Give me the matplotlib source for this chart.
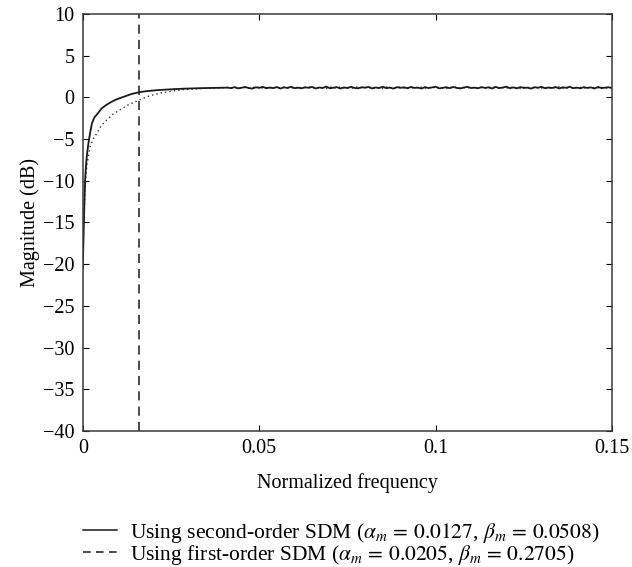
import matplotlib
matplotlib.use('Agg')
import matplotlib.pyplot as plt
from matplotlib.lines import Line2D

plt.rcParams['font.family'] = ['Liberation Serif', 'DejaVu Serif']
plt.rcParams['mathtext.fontset'] = 'stix'
plt.rcParams['axes.unicode_minus'] = True

# data
# rising part of the second-order SDM response (solid)
freq_second_rise = [0.0, 0.0002, 0.0004, 0.00065, 0.0009, 0.0012, 0.0016, 0.0021,
                    0.0026, 0.0033, 0.0043, 0.0054, 0.0067, 0.0081, 0.0095,
                    0.0115, 0.0138, 0.0160, 0.0181, 0.0210, 0.0248, 0.0286,
                    0.0334, 0.0382, 0.0405]
mag_second_rise = [-20.5, -17.0, -13.5, -10.0, -8.2, -6.8, -5.5, -4.2,
                   -3.1, -2.4, -1.9, -1.3, -0.9, -0.55, -0.25,
                   0.05, 0.4, 0.62, 0.74, 0.86, 0.96, 1.04,
                   1.1, 1.14, 1.16]

# rising part of the first-order SDM response (dotted)
freq_first_rise = [0.0003, 0.00065, 0.0011, 0.0016, 0.0021, 0.0029, 0.0040,
                   0.0052, 0.0068, 0.0086, 0.0105, 0.0129, 0.0160, 0.0191,
                   0.0218, 0.0248, 0.0286, 0.0334, 0.0382, 0.0405]
mag_first_rise = [-15.0, -10.7, -8.3, -7.0, -5.9, -5.0, -4.3,
                  -3.4, -2.7, -2.0, -1.5, -0.9, -0.3, 0.2,
                  0.5, 0.72, 0.92, 1.06, 1.13, 1.15]

# noisy flat region, 0.041 .. 0.150 (both curves overlap here)
freq_flat = [0.041 + 0.001 * i for i in range(110)]
mag_flat = [1.18, 1.10, 1.22, 1.08, 1.15, 1.24, 1.12, 1.05, 1.20, 1.14,
            1.26, 1.09, 1.17, 1.11, 1.23, 1.06, 1.19, 1.13, 1.27, 1.10,
            1.16, 1.08, 1.21, 1.14, 1.25, 1.07, 1.18, 1.12, 1.29, 1.09,
            1.15, 1.22, 1.06, 1.19, 1.11, 1.26, 1.13, 1.08, 1.21, 1.16,
            1.24, 1.07, 1.18, 1.12, 1.28, 1.10, 1.17, 1.05, 1.22, 1.14,
            1.20, 1.09, 1.25, 1.13, 1.16, 1.06, 1.23, 1.11, 1.19, 1.27,
            1.08, 1.15, 1.21, 1.10, 1.24, 1.13, 1.07, 1.18, 1.26, 1.12,
            1.16, 1.09, 1.22, 1.14, 1.20, 1.06, 1.25, 1.11, 1.17, 1.28,
            1.10, 1.19, 1.08, 1.23, 1.13, 1.16, 1.05, 1.21, 1.15, 1.26,
            1.09, 1.18, 1.12, 1.24, 1.07, 1.20, 1.14, 1.27, 1.10, 1.17,
            1.08, 1.22, 1.13, 1.19, 1.06, 1.25, 1.11, 1.16, 1.21, 1.12]
mag_flat_first = [1.14, 1.20, 1.09, 1.23, 1.12, 1.17, 1.06, 1.21, 1.15, 1.25,
                  1.10, 1.18, 1.13, 1.26, 1.08, 1.16, 1.22, 1.11, 1.19, 1.07,
                  1.24, 1.13, 1.17, 1.28, 1.09, 1.20, 1.12, 1.15, 1.06, 1.23,
                  1.18, 1.10, 1.25, 1.14, 1.21, 1.08, 1.16, 1.27, 1.11, 1.19,
                  1.13, 1.22, 1.09, 1.17, 1.05, 1.24, 1.15, 1.20, 1.10, 1.26,
                  1.12, 1.18, 1.07, 1.23, 1.16, 1.21, 1.11, 1.14, 1.28, 1.09,
                  1.19, 1.13, 1.06, 1.22, 1.17, 1.25, 1.10, 1.15, 1.20, 1.08,
                  1.24, 1.12, 1.18, 1.07, 1.21, 1.14, 1.27, 1.11, 1.16, 1.09,
                  1.23, 1.13, 1.19, 1.06, 1.20, 1.15, 1.25, 1.10, 1.17, 1.12,
                  1.22, 1.08, 1.18, 1.14, 1.26, 1.11, 1.16, 1.07, 1.21, 1.13,
                  1.19, 1.09, 1.24, 1.12, 1.17, 1.15, 1.20, 1.10, 1.14, 1.18]

cutoff_freq = 0.016

labels = [r'Using second-order SDM ($\alpha_m\,=\,0.0127$, $\beta_m\,=\,0.0508$)',
          r'Using first-order SDM ($\alpha_m\,=\,0.0205$, $\beta_m\,=\,0.2705$)']

fig = plt.figure(figsize=(6.32, 5.67), dpi=100)
ax = fig.add_axes([0.131, 0.240, 0.8375, 0.7354])

ax.plot(freq_first_rise + freq_flat, mag_first_rise + mag_flat_first,
        color='#333333', linestyle=(0, (1, 2.2)), linewidth=1.0)
ax.plot(freq_second_rise + freq_flat, mag_second_rise + mag_flat,
        color='#1a1a1a', linewidth=1.3)
ax.axvline(cutoff_freq, color='#1a1a1a', linestyle=(0, (6, 4)), linewidth=1.1)

ax.set_xlim(0, 0.15)
ax.set_ylim(-40, 10)
ax.set_xticks([0, 0.05, 0.1, 0.15])
ax.set_xticklabels(['0', '0.05', '0.1', '0.15'])
ax.set_yticks(range(-40, 11, 5))
ax.tick_params(direction='in', top=True, right=True, labelsize=14.5, length=4,
               width=0.8, pad=6)
for s in ax.spines.values():
    s.set_linewidth(1.1)
    s.set_color('#3a3a3a')
ax.set_xlabel('Normalized frequency', fontsize=14.5, labelpad=11)
ax.set_ylabel('Magnitude (dB)', fontsize=14.5, labelpad=2)

handles = [Line2D([], [], color='#1a1a1a', linewidth=1.1),
           Line2D([], [], color='#1a1a1a', linewidth=1.1, linestyle=(0, (5, 3.5)))]
fig.legend(handles, labels, loc='upper left', bbox_to_anchor=(0.131, 0.082),
           frameon=False, fontsize=15.5, handlelength=1.6, handletextpad=0.6,
           labelspacing=-0.08, borderpad=0, borderaxespad=0)

fig.savefig('out.png', dpi=100)
